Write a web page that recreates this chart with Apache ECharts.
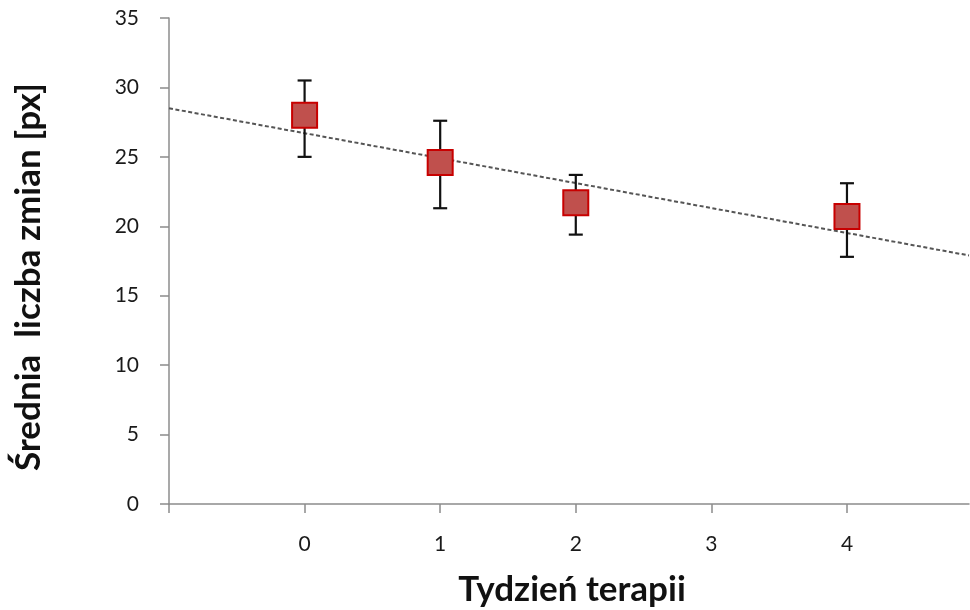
<!DOCTYPE html>
<html>
<head>
<meta charset="utf-8">
<script src="https://cdn.jsdelivr.net/npm/echarts@6/dist/echarts.min.js"></script>
<style>html,body{margin:0;padding:0;background:#fff}#c{width:970px;height:610px}</style>
</head>
<body>
<div id="c"></div>
<script>
var weeks = [0, 1, 2, 4];
var means = [28.0, 24.6, 21.7, 20.7];
var errUpper = [30.5, 27.6, 23.7, 23.1];
var errLower = [25.0, 21.3, 19.4, 17.8];
var trendX = [-1, 4.9];
var trendY = [28.5, 17.9];
var xTitle = 'Tydzień terapii';
var yTitle = 'Średnia  liczba zmian [px]';

var FONT = 'Lato, "Open Sans", sans-serif';
var chart = echarts.init(document.getElementById('c'), null, {renderer: 'canvas'});

var meanData = weeks.map(function (w, i) { return [w, means[i]]; });
var errData = weeks.map(function (w, i) { return [w, errLower[i], errUpper[i]]; });
var trendData = trendX.map(function (x, i) { return [x, trendY[i]]; });

chart.setOption({
  animation: false,
  backgroundColor: '#fff',
  grid: {left: 169, right: 1, top: 18, bottom: 106, containLabel: false},
  graphic: [
    {
      type: 'text', x: 572, y: 590,
      style: {text: xTitle, fontFamily: FONT, fontSize: 35, fontWeight: 'bold', fill: '#111',
        align: 'center', verticalAlign: 'middle'}
    },
    {
      type: 'text', x: 29, y: 277, rotation: Math.PI / 2,
      style: {text: yTitle, fontFamily: FONT, fontSize: 35, fontWeight: 'bold', fill: '#111',
        align: 'center', verticalAlign: 'middle'}
    }
  ],
  xAxis: {
    type: 'value', min: -1, max: 4.9, interval: 1,
    axisLine: {show: true, onZero: false, lineStyle: {color: '#8c8c8c', width: 1.5}},
    axisTick: {show: true, inside: false, length: 9, lineStyle: {color: '#8c8c8c', width: 1.5}},
    splitLine: {show: false},
    axisLabel: {
      margin: 30, fontFamily: FONT, fontSize: 21, color: '#1a1a1a',
      showMaxLabel: false,
      formatter: function (v) { return (v < 0 || v !== Math.round(v)) ? '' : String(v); }
    }
  },
  yAxis: {
    type: 'value', min: 0, max: 35, interval: 5,
    axisLine: {show: true, onZero: false, lineStyle: {color: '#8c8c8c', width: 1.5}},
    axisTick: {show: true, inside: false, length: 9, lineStyle: {color: '#8c8c8c', width: 1.5}},
    splitLine: {show: false},
    axisLabel: {margin: 30, fontFamily: FONT, fontSize: 21, color: '#1a1a1a'}
  },
  series: [
    {
      type: 'line', data: trendData, symbol: 'none', z: 1,
      lineStyle: {color: '#555', width: 2, type: [4, 2.5]}
    },
    {
      type: 'custom', data: errData, z: 2,
      renderItem: function (params, api) {
        var x = api.value(0);
        var lo = api.coord([x, api.value(1)]);
        var hi = api.coord([x, api.value(2)]);
        var cap = 7;
        var style = {stroke: '#111', lineWidth: 2.2};
        return {
          type: 'group',
          children: [
            {type: 'line', shape: {x1: lo[0], y1: lo[1], x2: hi[0], y2: hi[1]}, style: style},
            {type: 'line', shape: {x1: lo[0] - cap, y1: lo[1], x2: lo[0] + cap, y2: lo[1]}, style: style},
            {type: 'line', shape: {x1: hi[0] - cap, y1: hi[1], x2: hi[0] + cap, y2: hi[1]}, style: style}
          ]
        };
      }
    },
    {
      type: 'scatter', data: meanData, symbol: 'rect', symbolSize: 25, z: 3,
      itemStyle: {color: '#c0504d', borderColor: '#c80000', borderWidth: 2, opacity: 1}
    }
  ]
});
</script>
</body>
</html>
